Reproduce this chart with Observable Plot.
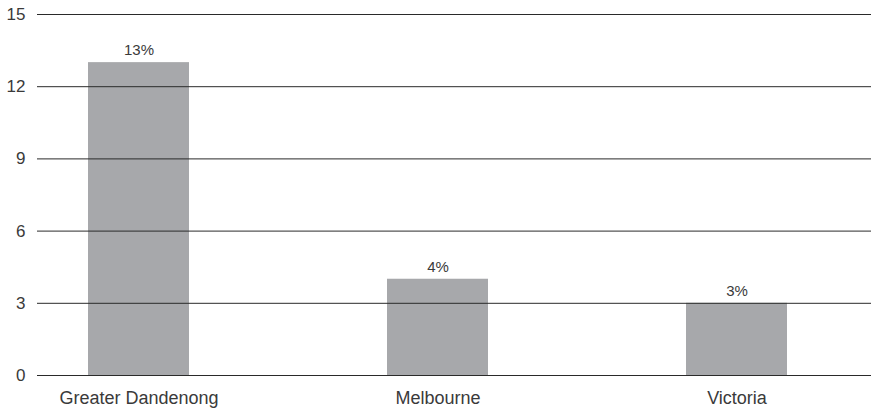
<!DOCTYPE html>
<html>
<head>
<meta charset="utf-8">
<script src="https://cdn.jsdelivr.net/npm/d3@7"></script>
<script src="https://cdn.jsdelivr.net/npm/@observablehq/plot@0.6"></script>
<style>
  html, body { margin: 0; padding: 0; background: #fff; }
  #chart svg { display: block; }
</style>
</head>
<body>
<div id="chart"></div>
<script>
const categories = ["Greater Dandenong", "Melbourne", "Victoria"];
const values = [13, 4, 3];
const labels = ["13%", "4%", "3%"];
const yTicks = [0, 3, 6, 9, 12, 15];

const data = categories.map((c, i) => ({category: c, value: values[i], label: labels[i]}));

const chart = Plot.plot({
  width: 875,
  height: 409,
  marginTop: 14,
  marginBottom: 34,
  marginLeft: 37,
  marginRight: 4,
  style: {fontFamily: "'Liberation Sans', Arial, sans-serif", fontSize: "17px", color: "#3a3a3a", background: "#fff"},
  x: {domain: categories, range: [27, 848], paddingInner: 0.662, paddingOuter: 0.2, label: null},
  y: {domain: [0, 15], label: null},
  marks: [
    Plot.barY(data, {x: "category", y: "value", fill: "#a7a8ab"}),
    Plot.ruleY(yTicks, {stroke: "#2a2a2a", strokeWidth: 1}),
    Plot.text(data, {x: "category", y: "value", text: "label", dy: -12, fill: "#3a3a3a", fontSize: 15}),
    Plot.axisY({ticks: yTicks, tickSize: 0, tickPadding: 12, fontSize: 17, label: null}),
    Plot.axisX({tickSize: 0, tickPadding: 16, fontSize: 18, label: null})
  ]
});
document.getElementById("chart").appendChild(chart);
</script>
</body>
</html>
